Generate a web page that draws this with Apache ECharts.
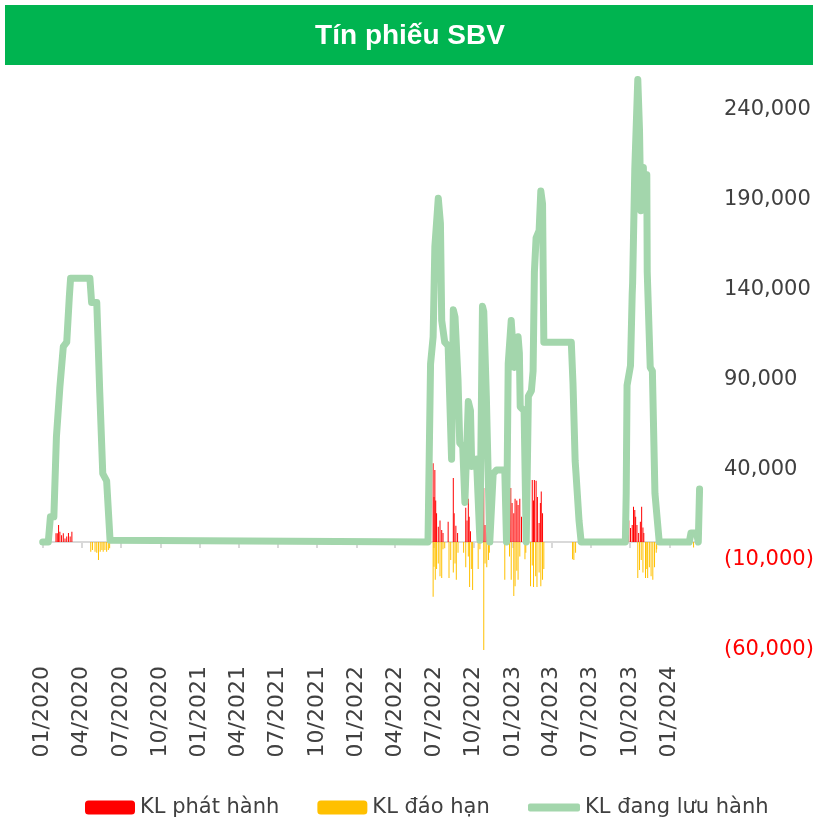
<!DOCTYPE html>
<html>
<head>
<meta charset="utf-8">
<script src="https://cdn.jsdelivr.net/npm/echarts@6/dist/echarts.min.js"></script>
<style>
  html, body { margin: 0; padding: 0; background: #fff; }
  #chart { width: 813px; height: 822px; }
</style>
</head>
<body>
<div id="chart"></div>
<script>
// KL dang luu hanh (outstanding)
var outstanding = [
    ['2020-01-01', 0], ['2020-01-14', 0], ['2020-01-19', 14000], ['2020-01-27', 14000],
    ['2020-01-29', 29000], ['2020-02-02', 58500], ['2020-02-10', 86000], ['2020-02-18', 108500],
    ['2020-02-26', 111000], ['2020-03-03', 136000], ['2020-03-06', 146500], ['2020-04-20', 146500],
    ['2020-04-24', 133000], ['2020-05-06', 133000], ['2020-05-09', 112000], ['2020-05-13', 83000],
    ['2020-05-20', 38000], ['2020-05-29', 34000], ['2020-06-06', 1000], ['2020-06-08', 0],
    ['2022-06-17', 0], ['2022-06-23', 99000], ['2022-06-29', 114000], ['2022-07-03', 164000],
    ['2022-07-11', 191000], ['2022-07-16', 177000], ['2022-07-19', 123000], ['2022-07-26', 111000],
    ['2022-08-03', 109000], ['2022-08-11', 46000], ['2022-08-15', 129000], ['2022-08-19', 125000],
    ['2022-08-26', 90000], ['2022-08-30', 55000], ['2022-09-06', 53000], ['2022-09-11', 22000],
    ['2022-09-19', 78000], ['2022-09-24', 73000], ['2022-09-27', 42000], ['2022-10-08', 46000],
    ['2022-10-16', 1000], ['2022-10-22', 131000], ['2022-10-25', 128000], ['2022-10-31', 81000],
    ['2022-11-08', 0], ['2022-11-16', 38000], ['2022-11-24', 40000], ['2022-12-13', 40000],
    ['2022-12-17', 0], ['2022-12-21', 99000], ['2022-12-28', 123000], ['2023-01-01', 123000],
    ['2023-01-04', 97000], ['2023-01-13', 114000], ['2023-01-16', 105000], ['2023-01-18', 75000],
    ['2023-01-27', 73000], ['2023-02-01', 0], ['2023-02-06', 81000], ['2023-02-13', 84000],
    ['2023-02-17', 95000], ['2023-02-20', 150000], ['2023-02-24', 169000], ['2023-03-03', 173000],
    ['2023-03-07', 195000], ['2023-03-11', 188000], ['2023-03-14', 111000], ['2023-05-17', 111000],
    ['2023-05-21', 88000], ['2023-05-26', 45000], ['2023-05-28', 38000], ['2023-06-04', 12000],
    ['2023-06-09', 0], ['2023-09-20', 0], ['2023-09-22', 27000], ['2023-09-24', 87000],
    ['2023-10-02', 98000], ['2023-10-06', 138000], ['2023-10-07', 144000], ['2023-10-12', 207000],
    ['2023-10-19', 257000], ['2023-10-23', 229000], ['2023-10-26', 184000], ['2023-11-01', 208000],
    ['2023-11-02', 185000], ['2023-11-09', 204000], ['2023-11-10', 150000], ['2023-11-17', 97000],
    ['2023-11-22', 95000], ['2023-11-28', 27000], ['2023-12-08', 0], ['2024-02-16', 0],
    ['2024-02-20', 5000], ['2024-03-04', 5000], ['2024-03-08', 0], ['2024-03-11', 29500]
];

// KL phat hanh (issued)
var issued = [
    ['2020-02-01', 4800], ['2020-02-04', 4800], ['2020-02-07', 9400], ['2020-02-10', 5700],
    ['2020-02-14', 3700], ['2020-02-18', 4800], ['2020-02-22', 2000], ['2020-02-26', 3000],
    ['2020-03-01', 5000], ['2020-03-05', 3000], ['2020-03-09', 5700],
    ['2022-06-29', 43700], ['2022-07-01', 25000], ['2022-07-03', 40000], ['2022-07-05', 23000],
    ['2022-07-07', 16000], ['2022-07-11', 8500], ['2022-07-15', 12000], ['2022-07-19', 6700],
    ['2022-07-22', 5000], ['2022-08-03', 11300], ['2022-08-15', 35500], ['2022-08-17', 16000],
    ['2022-08-21', 9000], ['2022-08-25', 5000], ['2022-09-13', 19000], ['2022-09-16', 12000],
    ['2022-09-19', 24000], ['2022-09-21', 14000], ['2022-09-24', 6000], ['2022-10-25', 30000],
    ['2022-10-28', 9400], ['2022-11-01', 6000], ['2022-12-27', 30000], ['2022-12-30', 21700],
    ['2023-01-03', 16000], ['2023-01-06', 24000], ['2023-01-10', 23000], ['2023-01-13', 20600],
    ['2023-01-17', 24000], ['2023-01-21', 14000], ['2023-02-15', 34400], ['2023-02-18', 23000],
    ['2023-02-20', 34400], ['2023-02-24', 34000], ['2023-02-27', 25000], ['2023-03-03', 10500],
    ['2023-03-06', 21700], ['2023-03-08', 28000], ['2023-03-11', 16000],
    ['2023-09-25', 6000], ['2023-09-28', 12000], ['2023-10-02', 7800], ['2023-10-06', 9400],
    ['2023-10-09', 19600], ['2023-10-12', 17800], ['2023-10-14', 14000], ['2023-10-17', 9400],
    ['2023-10-21', 5000], ['2023-10-25', 11300], ['2023-10-28', 19600], ['2023-10-31', 8000],
    ['2023-11-02', 5000]
];

// KL dao han (matured), negative
var matured = [
    ['2020-04-22', -5400], ['2020-04-26', -4500], ['2020-05-02', -5400], ['2020-05-06', -6000],
    ['2020-05-10', -10000], ['2020-05-14', -5400], ['2020-05-18', -4500], ['2020-05-21', -5400],
    ['2020-05-25', -4500], ['2020-05-29', -5400], ['2020-06-02', -4500], ['2020-06-05', -3500],
    ['2022-06-29', -30400], ['2022-07-01', -13700], ['2022-07-04', -21000], ['2022-07-07', -15000],
    ['2022-07-11', -12000], ['2022-07-15', -19000], ['2022-07-19', -20000], ['2022-07-22', -4000],
    ['2022-07-26', -3500], ['2022-08-05', -20000], ['2022-08-09', -10000], ['2022-08-15', -17000],
    ['2022-08-19', -12000], ['2022-08-22', -21000], ['2022-08-26', -6000], ['2022-09-08', -6000],
    ['2022-09-13', -14000], ['2022-09-19', -8000], ['2022-09-22', -25000], ['2022-09-26', -15000],
    ['2022-09-29', -26700], ['2022-10-12', -15000], ['2022-10-16', -4000], ['2022-10-25', -61000],
    ['2022-10-28', -12000], ['2022-11-01', -14000], ['2022-11-05', -10000], ['2022-11-07', -6000],
    ['2022-12-13', -21000], ['2022-12-24', -8000], ['2022-12-28', -21000], ['2023-01-03', -30000],
    ['2023-01-06', -24600], ['2023-01-10', -16000], ['2023-01-13', -21000], ['2023-01-17', -8000],
    ['2023-01-29', -9600], ['2023-01-31', -6000], ['2023-02-11', -24600], ['2023-02-15', -13000],
    ['2023-02-18', -25000], ['2023-02-23', -19000], ['2023-02-26', -25000], ['2023-03-03', -17000],
    ['2023-03-07', -24600], ['2023-03-11', -21000], ['2023-03-14', -15000], ['2023-05-20', -9600],
    ['2023-05-23', -10000], ['2023-05-27', -6000],
    ['2023-10-19', -20000], ['2023-10-23', -15500], ['2023-10-27', -10000], ['2023-10-31', -17000],
    ['2023-11-06', -20000], ['2023-11-09', -15000], ['2023-11-11', -20000], ['2023-11-15', -14000],
    ['2023-11-19', -19000], ['2023-11-23', -21000], ['2023-11-27', -14000], ['2023-12-01', -6000],
    ['2023-12-02', -4000], ['2024-02-26', -3000]
];

// quarter ticks on the date axis
var quarterTicks = [
    '2020-01-01', '2020-04-01', '2020-07-01', '2020-10-01',
    '2021-01-01', '2021-04-01', '2021-07-01', '2021-10-01',
    '2022-01-01', '2022-04-01', '2022-07-01', '2022-10-01',
    '2023-01-01', '2023-04-01', '2023-07-01', '2023-10-01',
    '2024-01-01'
];

function toTime(d) {
    return echarts.number.parseDate(d).getTime();
}

function toPoints(list) {
    return list.map(function (item) {
        return [toTime(item[0]), item[1]];
    });
}

var tickValues = quarterTicks.map(toTime);
var xMin = toTime('2020-01-01');
var xMax = toTime('2024-03-12');

var myChart = echarts.init(document.getElementById('chart'));

var axisFont = 'DejaVu Sans';
var lineGreen = '#A3D6AC';

var option = {
    animation: false,
    graphic: [
        {
            type: 'rect',
            shape: { x: 5, y: 5, width: 820, height: 60 },
            style: { fill: '#00B450' }
        },
        {
            type: 'text',
            x: 410,
            y: 36,
            style: {
                text: 'Tín phiếu SBV',
                fill: '#fff',
                font: 'bold 28px "Liberation Sans"',
                textAlign: 'center',
                textVerticalAlign: 'middle'
            }
        }
    ],
    legend: [
        {
            left: 85,
            top: 797,
            padding: 0,
            itemWidth: 50,
            itemHeight: 14,
            itemGap: 38,
            textStyle: { fontFamily: axisFont, fontSize: 21, color: '#404040' },
            data: ['KL phát hành', 'KL đáo hạn']
        },
        {
            left: 528,
            top: 797,
            padding: 0,
            itemWidth: 52,
            itemHeight: 8,
            icon: 'roundRect',
            textStyle: { fontFamily: axisFont, fontSize: 21, color: '#404040' },
            data: ['KL đang lưu hành']
        }
    ],
    grid: {
        left: 42.7,
        right: 113,
        top: 74,
        bottom: 172,
        outerBoundsMode: 'none'
    },
    xAxis: [
        {
            // line at zero with the quarter ticks
            type: 'value',
            min: xMin,
            max: xMax,
            axisLine: { onZero: true, lineStyle: { color: '#D9D9D9', width: 2 } },
            axisTick: { show: true, length: 6, lineStyle: { color: '#D9D9D9', width: 2 }, customValues: tickValues },
            axisLabel: { show: false },
            splitLine: { show: false }
        },
        {
            // date labels at the bottom
            type: 'value',
            min: xMin,
            max: xMax,
            position: 'bottom',
            axisLine: { show: false, onZero: false },
            axisTick: { show: false },
            splitLine: { show: false },
            axisLabel: {
                customValues: tickValues,
                rotate: 90,
                margin: 16,
                fontFamily: axisFont,
                fontSize: 22,
                color: '#404040',
                formatter: function (v) {
                    return echarts.time.format(v, '{MM}/{yyyy}', false);
                }
            }
        }
    ],
    yAxis: {
        type: 'value',
        position: 'right',
        min: -60000,
        max: 260000,
        interval: 10000,
        axisLine: { show: false },
        axisTick: { show: false },
        splitLine: { show: false },
        axisLabel: {
            margin: 24,
            fontFamily: axisFont,
            fontSize: 21,
            color: function (v) {
                return v < 0 ? '#FF0000' : '#404040';
            },
            formatter: function (v) {
                if ((v + 60000) % 50000 !== 0) return '';
                var s = echarts.format.addCommas(Math.abs(v));
                return v < 0 ? '(' + s + ')' : s;
            }
        }
    },
    series: [
        {
            name: 'KL phát hành',
            type: 'bar',
            barWidth: 1,
            barGap: '-100%',
            itemStyle: { color: '#FF0000' },
            data: toPoints(issued)
        },
        {
            name: 'KL đáo hạn',
            type: 'bar',
            barWidth: 1,
            barGap: '-100%',
            itemStyle: { color: '#FFC000' },
            data: toPoints(matured)
        },
        {
            name: 'KL đang lưu hành',
            type: 'line',
            showSymbol: false,
            symbol: 'none',
            z: 5,
            lineStyle: { color: lineGreen, width: 7, join: 'round', cap: 'round' },
            itemStyle: { color: lineGreen },
            data: toPoints(outstanding)
        }
    ]
};

myChart.setOption(option);
</script>
</body>
</html>
